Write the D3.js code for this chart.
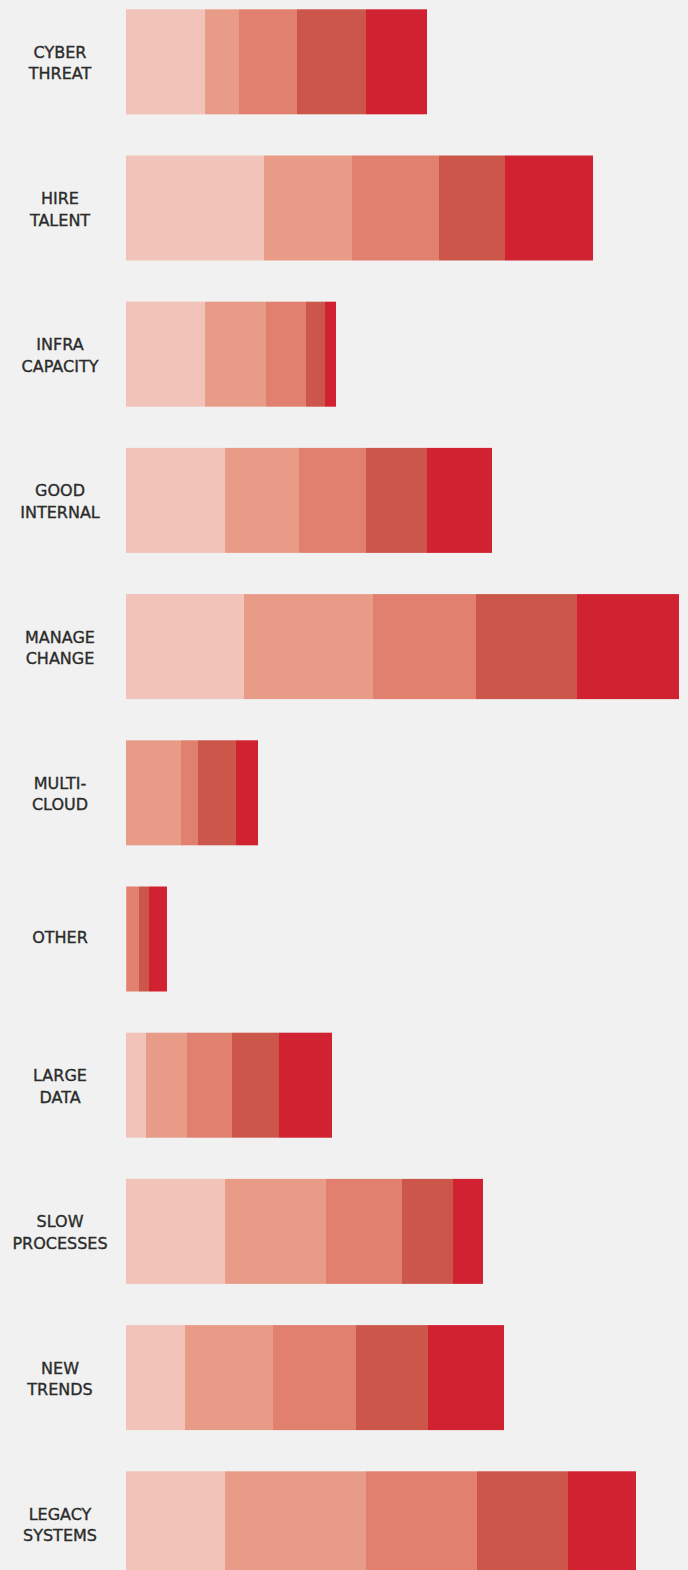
<!DOCTYPE html>
<html>
<head>
<meta charset="utf-8">
<script src="https://cdn.jsdelivr.net/npm/d3@7"></script>
<style>
  html, body { margin: 0; padding: 0; background: #f0f1f0; }
  svg { display: block; }
  .label { font-family: "DejaVu Sans", sans-serif; font-size: 16px; fill: #2b2b2b; stroke: #2b2b2b; stroke-width: 0.35px; }
</style>
</head>
<body>
<svg id="chart" width="688" height="1570"></svg>
<script>
// Categories, each label split into its two display lines
const categories = [
  ["CYBER", "THREAT"],
  ["HIRE", "TALENT"],
  ["INFRA", "CAPACITY"],
  ["GOOD", "INTERNAL"],
  ["MANAGE", "CHANGE"],
  ["MULTI-", "CLOUD"],
  ["OTHER"],
  ["LARGE", "DATA"],
  ["SLOW", "PROCESSES"],
  ["NEW", "TRENDS"],
  ["LEGACY", "SYSTEMS"]
];

// Five stacked levels, lightest to darkest, one value per category
const level1 = [79, 138, 79, 99, 118, 0, 0, 20, 99, 59, 99];
const level2 = [34, 88, 61, 74, 129, 55, 1, 41, 101, 88, 141];
const level3 = [58, 87, 40, 67, 103, 17, 12, 45, 76, 83, 111];
const level4 = [69, 66, 19, 61, 101, 38, 10, 47, 51, 72, 91];
const level5 = [61, 88, 11, 65, 102, 22, 18, 53, 30, 76, 68];

const levelKeys = ["level1", "level2", "level3", "level4", "level5"];
const levelColors = ["#f2c3b8", "#e89c88", "#e1806e", "#cd564b", "#d12232"];

const rows = categories.map((c, i) => ({
  key: c.join(" "),
  lines: c,
  level1: level1[i],
  level2: level2[i],
  level3: level3[i],
  level4: level4[i],
  level5: level5[i]
}));

const svg = d3.select("#chart");

const step = 146.2, barH = 105, firstTop = 9.3;
const gap = step - barH;
const y = d3.scaleBand()
  .domain(rows.map(d => d.key))
  .range([firstTop - gap / 2, firstTop - gap / 2 + rows.length * step])
  .paddingInner(gap / step)
  .paddingOuter(gap / step / 2);

const maxTotal = d3.max(rows, d => levelKeys.reduce((s, k) => s + d[k], 0));
const x = d3.scaleLinear().domain([0, maxTotal]).range([126, 679]);

const color = d3.scaleOrdinal().domain(levelKeys).range(levelColors);

const stacked = d3.stack().keys(levelKeys)(rows);

svg.append("g")
  .selectAll("g")
  .data(stacked)
  .join("g")
    .attr("fill", s => color(s.key))
  .selectAll("rect")
  .data(s => s)
  .join("rect")
    .attr("x", d => x(d[0]))
    .attr("y", d => y(d.data.key))
    .attr("width", d => Math.max(0, x(d[1]) - x(d[0])))
    .attr("height", y.bandwidth());

// Category labels, centred in the left margin
const labels = svg.append("g")
  .selectAll("text")
  .data(rows)
  .join("text")
    .attr("class", "label")
    .attr("text-anchor", "middle")
    .attr("x", 60)
    .attr("y", d => {
      const mid = y(d.key) + y.bandwidth() / 2;
      return d.lines.length === 1 ? mid + 3.5 : mid - 4;
    });

labels.selectAll("tspan")
  .data(d => d.lines)
  .join("tspan")
    .attr("x", 60)
    .attr("dy", (t, i) => i === 0 ? 0 : 21.5)
    .text(t => t);
</script>
</body>
</html>
